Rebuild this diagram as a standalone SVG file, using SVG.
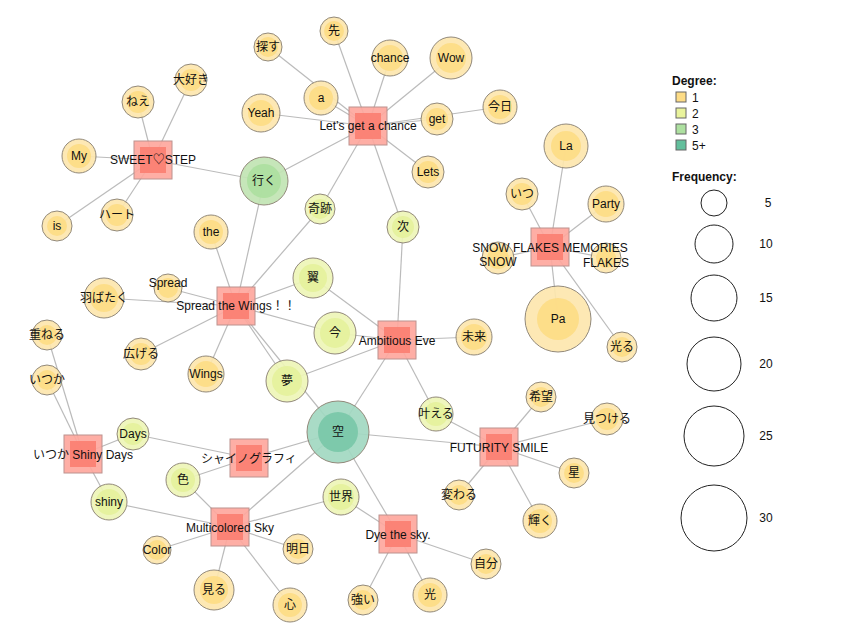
<svg xmlns="http://www.w3.org/2000/svg" width="853" height="640" viewBox="0 0 853 640">
<style>
text{font-family:"Liberation Sans","Noto Sans CJK JP",sans-serif;font-size:12px;fill:#111;text-anchor:middle}
.e line{stroke:#bbb;stroke-width:1.2}
.o{stroke:#8a8070;stroke-width:1}
.d1 .o{fill:#fde7ae}.d1 .i{fill:#fddc86}
.d2 .o{fill:#eef6b8}.d2 .i{fill:#e5f19c}
.d3 .o{fill:#c2e4b4}.d3 .i{fill:#ade0a0}
.d5 .o{fill:#a2d9c2}.d5 .i{fill:#79c8a8}
.o,.i{opacity:0.92}
.s .o{fill:#fea89e;stroke:#b88a86}.s .i{fill:#fb7f72}
.lg{text-anchor:start}
</style>
<rect width="853" height="640" fill="#fff"/>
<g class="e" id="edges">
<line x1="368" y1="126" x2="334" y2="31"/><line x1="368" y1="126" x2="268" y2="47"/><line x1="368" y1="126" x2="390" y2="58"/><line x1="368" y1="126" x2="451" y2="58"/><line x1="368" y1="126" x2="321" y2="98"/><line x1="368" y1="126" x2="261" y2="113"/><line x1="368" y1="126" x2="437" y2="119"/><line x1="368" y1="126" x2="500" y2="107"/><line x1="368" y1="126" x2="428" y2="172"/><line x1="368" y1="126" x2="320" y2="209"/><line x1="368" y1="126" x2="403" y2="227"/><line x1="368" y1="126" x2="264" y2="181"/>
<line x1="153" y1="160" x2="138" y2="102"/><line x1="153" y1="160" x2="191" y2="80"/><line x1="153" y1="160" x2="79" y2="156"/><line x1="153" y1="160" x2="57" y2="226"/><line x1="153" y1="160" x2="117" y2="215"/><line x1="153" y1="160" x2="264" y2="181"/>
<line x1="236" y1="306" x2="264" y2="181"/><line x1="236" y1="306" x2="320" y2="209"/><line x1="236" y1="306" x2="211" y2="232"/><line x1="236" y1="306" x2="168" y2="288"/><line x1="236" y1="306" x2="104" y2="298"/><line x1="236" y1="306" x2="313" y2="278"/><line x1="236" y1="306" x2="335" y2="333"/><line x1="236" y1="306" x2="141" y2="354"/><line x1="236" y1="306" x2="206" y2="374"/><line x1="236" y1="306" x2="287" y2="381"/><line x1="236" y1="306" x2="338" y2="432"/>
<line x1="397" y1="340" x2="313" y2="278"/><line x1="397" y1="340" x2="335" y2="333"/><line x1="397" y1="340" x2="287" y2="381"/><line x1="397" y1="340" x2="403" y2="227"/><line x1="397" y1="340" x2="474" y2="337"/><line x1="397" y1="340" x2="436" y2="414"/><line x1="397" y1="340" x2="338" y2="432"/>
<line x1="550" y1="247" x2="566" y2="146"/><line x1="550" y1="247" x2="522" y2="194"/><line x1="550" y1="247" x2="606" y2="204"/><line x1="550" y1="247" x2="498" y2="258"/><line x1="550" y1="247" x2="606" y2="258"/><line x1="550" y1="247" x2="558" y2="319"/><line x1="550" y1="247" x2="622" y2="347"/>
<line x1="499" y1="447" x2="338" y2="432"/><line x1="499" y1="447" x2="436" y2="414"/><line x1="499" y1="447" x2="541" y2="397"/><line x1="499" y1="447" x2="607" y2="419"/><line x1="499" y1="447" x2="574" y2="473"/><line x1="499" y1="447" x2="459" y2="495"/><line x1="499" y1="447" x2="540" y2="521"/>
<line x1="83" y1="454" x2="47" y2="335"/><line x1="83" y1="454" x2="47" y2="380"/><line x1="83" y1="454" x2="133" y2="434"/><line x1="83" y1="454" x2="109" y2="502"/>
<line x1="249" y1="458" x2="133" y2="434"/><line x1="249" y1="458" x2="183" y2="480"/><line x1="249" y1="458" x2="338" y2="432"/>
<line x1="230" y1="527" x2="183" y2="480"/><line x1="230" y1="527" x2="109" y2="502"/><line x1="230" y1="527" x2="157" y2="550"/><line x1="230" y1="527" x2="214" y2="590"/><line x1="230" y1="527" x2="290" y2="605"/><line x1="230" y1="527" x2="298" y2="549"/><line x1="230" y1="527" x2="341" y2="497"/><line x1="230" y1="527" x2="338" y2="432"/>
<line x1="398" y1="534" x2="338" y2="432"/><line x1="398" y1="534" x2="341" y2="497"/><line x1="398" y1="534" x2="486" y2="564"/><line x1="398" y1="534" x2="430" y2="595"/><line x1="398" y1="534" x2="363" y2="600"/>
</g>
<g id="nodes">
<g id="n-saki" class="d1"><circle class="o" cx="334" cy="31" r="14"/><circle class="i" cx="334" cy="31" r="10"/><text x="334" y="35">先</text></g>
<g id="n-sagasu" class="d1"><circle class="o" cx="268" cy="47" r="14"/><circle class="i" cx="268" cy="47" r="10"/><text x="268" y="51">探す</text></g>
<g id="n-chance" class="d1"><circle class="o" cx="390" cy="58" r="18"/><circle class="i" cx="390" cy="58" r="13"/><text x="390" y="62">chance</text></g>
<g id="n-wow" class="d1"><circle class="o" cx="451" cy="58" r="21"/><circle class="i" cx="451" cy="58" r="15"/><text x="451" y="62">Wow</text></g>
<g id="n-a" class="d1"><circle class="o" cx="321" cy="98" r="17"/><circle class="i" cx="321" cy="98" r="12"/><text x="321" y="102">a</text></g>
<g id="n-yeah" class="d1"><circle class="o" cx="261" cy="113" r="19"/><circle class="i" cx="261" cy="113" r="13"/><text x="261" y="117">Yeah</text></g>
<g id="n-get" class="d1"><circle class="o" cx="437" cy="119" r="16"/><circle class="i" cx="437" cy="119" r="11"/><text x="437" y="123">get</text></g>
<g id="n-kyou" class="d1"><circle class="o" cx="500" cy="107" r="17"/><circle class="i" cx="500" cy="107" r="12"/><text x="500" y="111">今日</text></g>
<g id="n-lets" class="d1"><circle class="o" cx="428" cy="172" r="16"/><circle class="i" cx="428" cy="172" r="11"/><text x="428" y="176">Lets</text></g>
<g id="n-kiseki" class="d2"><circle class="o" cx="320" cy="209" r="15"/><circle class="i" cx="320" cy="209" r="10"/><text x="320" y="213">奇跡</text></g>
<g id="n-tsugi" class="d2"><circle class="o" cx="403" cy="227" r="16"/><circle class="i" cx="403" cy="227" r="11"/><text x="403" y="231">次</text></g>
<g id="n-iku" class="d3"><circle class="o" cx="264" cy="181" r="24"/><circle class="i" cx="264" cy="181" r="17"/><text x="264" y="185">行く</text></g>
<g id="n-nee" class="d1"><circle class="o" cx="138" cy="102" r="16"/><circle class="i" cx="138" cy="102" r="11"/><text x="138" y="106">ねえ</text></g>
<g id="n-daisuki" class="d1"><circle class="o" cx="191" cy="80" r="16"/><circle class="i" cx="191" cy="80" r="11"/><text x="191" y="84">大好き</text></g>
<g id="n-my" class="d1"><circle class="o" cx="79" cy="156" r="17"/><circle class="i" cx="79" cy="156" r="12"/><text x="79" y="160">My</text></g>
<g id="n-is" class="d1"><circle class="o" cx="57" cy="226" r="15"/><circle class="i" cx="57" cy="226" r="10"/><text x="57" y="230">is</text></g>
<g id="n-heart" class="d1"><circle class="o" cx="117" cy="215" r="16"/><circle class="i" cx="117" cy="215" r="11"/><text x="117" y="219">ハート</text></g>
<g id="n-la" class="d1"><circle class="o" cx="566" cy="146" r="22"/><circle class="i" cx="566" cy="146" r="15"/><text x="566" y="150">La</text></g>
<g id="n-itsu" class="d1"><circle class="o" cx="522" cy="194" r="16"/><circle class="i" cx="522" cy="194" r="11"/><text x="522" y="198">いつ</text></g>
<g id="n-party" class="d1"><circle class="o" cx="606" cy="204" r="18"/><circle class="i" cx="606" cy="204" r="13"/><text x="606" y="208">Party</text></g>
<g id="n-snow" class="d1"><circle class="o" cx="498" cy="258" r="16"/><circle class="i" cx="498" cy="258" r="11"/><text x="498" y="266">SNOW</text></g>
<g id="n-flakes" class="d1"><circle class="o" cx="606" cy="258" r="15"/><circle class="i" cx="606" cy="258" r="10"/><text x="606" y="267">FLAKES</text></g>
<g id="n-pa" class="d1"><circle class="o" cx="558" cy="319" r="33"/><circle class="i" cx="558" cy="319" r="21"/><text x="558" y="323">Pa</text></g>
<g id="n-hikaru" class="d1"><circle class="o" cx="622" cy="347" r="15"/><circle class="i" cx="622" cy="347" r="10"/><text x="622" y="351">光る</text></g>
<g id="n-the" class="d1"><circle class="o" cx="211" cy="232" r="17"/><circle class="i" cx="211" cy="232" r="12"/><text x="211" y="236">the</text></g>
<g id="n-spread" class="d1"><circle class="o" cx="168" cy="288" r="14"/><circle class="i" cx="168" cy="288" r="10"/><text x="168" y="287">Spread</text></g>
<g id="n-habataku" class="d1"><circle class="o" cx="104" cy="298" r="20"/><circle class="i" cx="104" cy="298" r="14"/><text x="104" y="302">羽ばたく</text></g>
<g id="n-tsubasa" class="d2"><circle class="o" cx="313" cy="278" r="20"/><circle class="i" cx="313" cy="278" r="14"/><text x="313" y="282">翼</text></g>
<g id="n-ima" class="d2"><circle class="o" cx="335" cy="333" r="21"/><circle class="i" cx="335" cy="333" r="15"/><text x="335" y="337">今</text></g>
<g id="n-hirogeru" class="d1"><circle class="o" cx="141" cy="354" r="16"/><circle class="i" cx="141" cy="354" r="11"/><text x="141" y="358">広げる</text></g>
<g id="n-wings" class="d1"><circle class="o" cx="206" cy="374" r="18"/><circle class="i" cx="206" cy="374" r="13"/><text x="206" y="378">Wings</text></g>
<g id="n-yume" class="d2"><circle class="o" cx="287" cy="381" r="21"/><circle class="i" cx="287" cy="381" r="15"/><text x="287" y="385">夢</text></g>
<g id="n-mirai" class="d1"><circle class="o" cx="474" cy="337" r="18"/><circle class="i" cx="474" cy="337" r="13"/><text x="474" y="341">未来</text></g>
<g id="n-kasaneru" class="d1"><circle class="o" cx="47" cy="335" r="15"/><circle class="i" cx="47" cy="335" r="10"/><text x="47" y="339">重ねる</text></g>
<g id="n-itsuka" class="d1"><circle class="o" cx="47" cy="380" r="15"/><circle class="i" cx="47" cy="380" r="10"/><text x="47" y="384">いつか</text></g>
<g id="n-days" class="d2"><circle class="o" cx="133" cy="434" r="16"/><circle class="i" cx="133" cy="434" r="11"/><text x="133" y="438">Days</text></g>
<g id="n-shiny" class="d2"><circle class="o" cx="109" cy="502" r="18"/><circle class="i" cx="109" cy="502" r="13"/><text x="109" y="506">shiny</text></g>
<g id="n-iro" class="d2"><circle class="o" cx="183" cy="480" r="17"/><circle class="i" cx="183" cy="480" r="12"/><text x="183" y="484">色</text></g>
<g id="n-sora" class="d5"><circle class="o" cx="338" cy="432" r="31"/><circle class="i" cx="338" cy="432" r="20"/><text x="338" y="436">空</text></g>
<g id="n-kanaeru" class="d2"><circle class="o" cx="436" cy="414" r="17"/><circle class="i" cx="436" cy="414" r="12"/><text x="436" y="418">叶える</text></g>
<g id="n-sekai" class="d2"><circle class="o" cx="341" cy="497" r="18"/><circle class="i" cx="341" cy="497" r="13"/><text x="341" y="501">世界</text></g>
<g id="n-kibou" class="d1"><circle class="o" cx="541" cy="397" r="15"/><circle class="i" cx="541" cy="397" r="10"/><text x="541" y="401">希望</text></g>
<g id="n-mitsukeru" class="d1"><circle class="o" cx="607" cy="419" r="16"/><circle class="i" cx="607" cy="419" r="11"/><text x="607" y="423">見つける</text></g>
<g id="n-hoshi" class="d1"><circle class="o" cx="574" cy="473" r="15"/><circle class="i" cx="574" cy="473" r="10"/><text x="574" y="477">星</text></g>
<g id="n-kawaru" class="d1"><circle class="o" cx="459" cy="495" r="15"/><circle class="i" cx="459" cy="495" r="10"/><text x="459" y="499">変わる</text></g>
<g id="n-kagayaku" class="d1"><circle class="o" cx="540" cy="521" r="17"/><circle class="i" cx="540" cy="521" r="12"/><text x="540" y="525">輝く</text></g>
<g id="n-jibun" class="d1"><circle class="o" cx="486" cy="564" r="15"/><circle class="i" cx="486" cy="564" r="10"/><text x="486" y="568">自分</text></g>
<g id="n-hikari" class="d1"><circle class="o" cx="430" cy="595" r="17"/><circle class="i" cx="430" cy="595" r="12"/><text x="430" y="599">光</text></g>
<g id="n-tsuyoi" class="d1"><circle class="o" cx="363" cy="600" r="15"/><circle class="i" cx="363" cy="600" r="10"/><text x="363" y="604">強い</text></g>
<g id="n-ashita" class="d1"><circle class="o" cx="298" cy="549" r="15"/><circle class="i" cx="298" cy="549" r="10"/><text x="298" y="553">明日</text></g>
<g id="n-kokoro" class="d1"><circle class="o" cx="290" cy="605" r="17"/><circle class="i" cx="290" cy="605" r="12"/><text x="290" y="609">心</text></g>
<g id="n-miru" class="d1"><circle class="o" cx="214" cy="590" r="20"/><circle class="i" cx="214" cy="590" r="14"/><text x="214" y="594">見る</text></g>
<g id="n-color" class="d1"><circle class="o" cx="157" cy="550" r="14"/><circle class="i" cx="157" cy="550" r="10"/><text x="157" y="554">Color</text></g>
<g id="s-lets" class="s"><rect class="o" x="349" y="107" width="38" height="38"/><rect class="i" x="355" y="113" width="26" height="26"/><text x="368" y="130">Let’s get a chance</text></g>
<g id="s-sweet" class="s"><rect class="o" x="134" y="141" width="38" height="38"/><rect class="i" x="140" y="147" width="26" height="26"/><text x="153" y="164">SWEET♡STEP</text></g>
<g id="s-spread" class="s"><rect class="o" x="217" y="287" width="38" height="38"/><rect class="i" x="223" y="293" width="26" height="26"/><text x="236" y="310">Spread the Wings！！</text></g>
<g id="s-ambitious" class="s"><rect class="o" x="378" y="321" width="38" height="38"/><rect class="i" x="384" y="327" width="26" height="26"/><text x="397" y="345">Ambitious Eve</text></g>
<g id="s-snow" class="s"><rect class="o" x="531" y="228" width="38" height="38"/><rect class="i" x="537" y="234" width="26" height="26"/><text x="550" y="252">SNOW FLAKES MEMORIES</text></g>
<g id="s-futurity" class="s"><rect class="o" x="480" y="428" width="38" height="38"/><rect class="i" x="486" y="434" width="26" height="26"/><text x="499" y="452">FUTURITY SMILE</text></g>
<g id="s-shiny" class="s"><rect class="o" x="64" y="435" width="38" height="38"/><rect class="i" x="70" y="441" width="26" height="26"/><text x="83" y="459">いつか Shiny Days</text></g>
<g id="s-shinography" class="s"><rect class="o" x="230" y="439" width="38" height="38"/><rect class="i" x="236" y="445" width="26" height="26"/><text x="249" y="463">シャイノグラフィ</text></g>
<g id="s-multi" class="s"><rect class="o" x="211" y="508" width="38" height="38"/><rect class="i" x="217" y="514" width="26" height="26"/><text x="230" y="532">Multicolored Sky</text></g>
<g id="s-dye" class="s"><rect class="o" x="379" y="515" width="38" height="38"/><rect class="i" x="385" y="521" width="26" height="26"/><text x="398" y="539">Dye the sky.</text></g>
</g>
<g id="legend">
<text class="lg" x="672" y="85" style="font-weight:bold">Degree:</text>
<rect x="676" y="92" width="10" height="10" fill="#fddc86" stroke="#666"/><text class="lg" x="692" y="102">1</text>
<rect x="676" y="108" width="10" height="10" fill="#e9f39c" stroke="#666"/><text class="lg" x="692" y="118">2</text>
<rect x="676" y="124" width="10" height="10" fill="#ade0a0" stroke="#666"/><text class="lg" x="692" y="134">3</text>
<rect x="676" y="140" width="10" height="10" fill="#62bf9c" stroke="#666"/><text class="lg" x="692" y="150">5+</text>
<text class="lg" x="672" y="181" style="font-weight:bold">Frequency:</text>
<g fill="none" stroke="#222">
<circle cx="714" cy="203" r="13"/><circle cx="714" cy="244" r="19"/><circle cx="714" cy="298" r="23"/><circle cx="714" cy="364" r="27"/><circle cx="714" cy="436" r="30"/><circle cx="714" cy="518" r="33"/>
</g>
<text x="768" y="207">5</text><text x="766" y="248">10</text><text x="766" y="302">15</text><text x="766" y="368">20</text><text x="766" y="440">25</text><text x="766" y="522">30</text>
</g>
</svg>
